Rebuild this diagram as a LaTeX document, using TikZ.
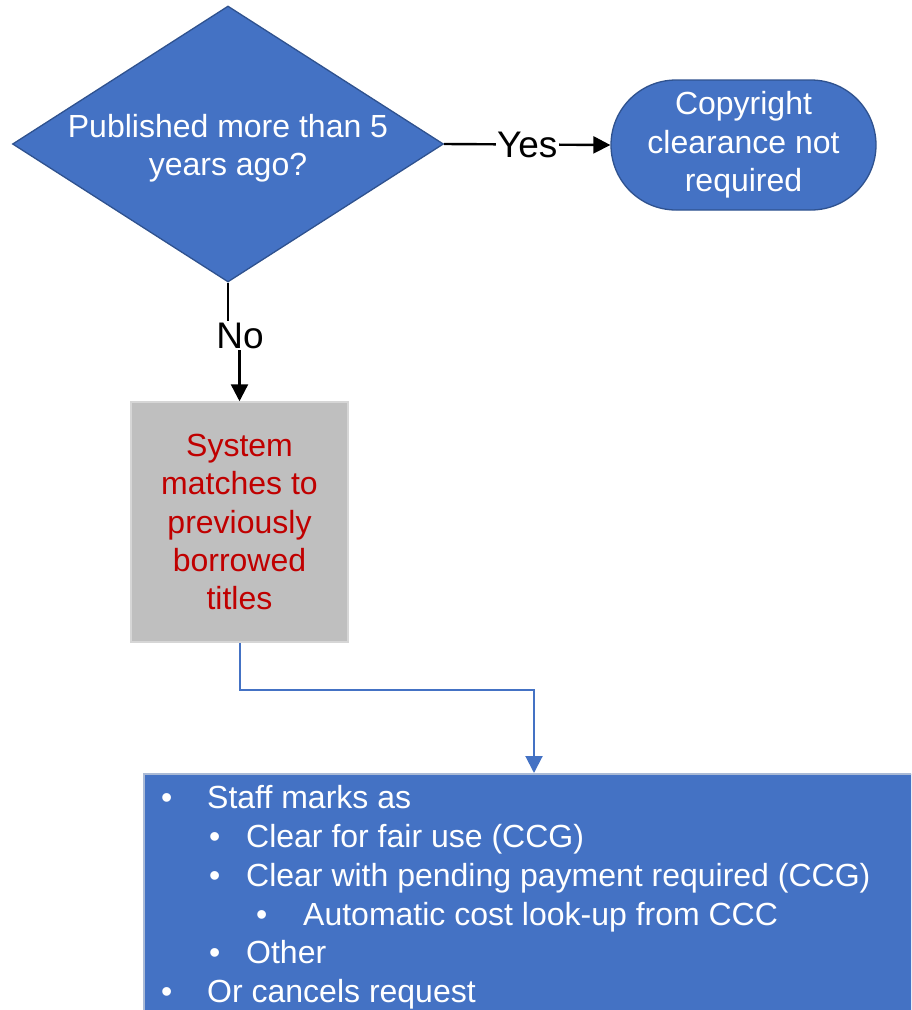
\documentclass[tikz,border=0pt]{standalone}
\usepackage{fontspec}
\setmainfont{Liberation Sans}
\usepackage{xcolor}
\usepackage{tikz}
\usetikzlibrary{shapes.geometric,arrows.meta}
\definecolor{flowblue}{RGB}{68,114,196}
\definecolor{flowedge}{RGB}{47,82,143}
\definecolor{flowred}{RGB}{192,0,0}
\definecolor{flowgray}{RGB}{191,191,191}
\definecolor{grayedge}{RGB}{214,214,214}
\definecolor{listedge}{RGB}{170,186,214}

\begin{document}
\begin{tikzpicture}[x=1pt,y=-1pt,
  big/.style={font=\fontsize{32}{38.3}\selectfont},
  decision/.style={diamond,fill=flowblue,draw=flowedge,line width=1.3pt,
    minimum width=431pt,minimum height=276pt,inner sep=0pt},
  terminal/.style={rectangle,rounded corners=65pt,fill=flowblue,draw=flowedge,
    line width=1.3pt,minimum width=265pt,minimum height=130pt,
    text=white,align=center,big},
  process/.style={rectangle,fill=flowgray,draw=grayedge,line width=1.5pt,
    minimum width=217pt,minimum height=240pt,text=flowred,align=center,big},
  listline/.style={anchor=base west,inner sep=0pt,text=white,big},
  conn/.style={line width=2.4pt,-{Triangle[length=17pt,width=17pt]}},
  lbl/.style={fill=white,inner sep=1.5pt,font=\fontsize{37}{40}\selectfont}]
\clip (0,0) rectangle (911,1010);
\node[decision] (dec) at (228,144) {};
\node[align=center,text=white,big] (dect) at (228,148) {Published more than 5\\years ago?};
\node[terminal] (done) at (743.5,145) {Copyright\\clearance not\\required};
\node[process] (sys) at (239.5,522) {System\\matches to\\previously\\borrowed\\titles};
\node[rectangle,fill=flowblue,draw=listedge,line width=1.5pt,anchor=north west,
  minimum width=800pt,minimum height=270pt] (staff) at (143,773) {};
\draw[conn] (dec.east) -- node[lbl] (yes) {Yes} (done.west);
\draw[conn] (dec.south) -- ++(0,53) node[lbl,xshift=12pt] (no) {No} -| (sys.north);
\draw[conn,flowblue,line width=2pt] (sys.south) -- ++(0,47) -| ([xshift=391pt]staff.north west);
\node[listline] (l1) at (161,808) {\makebox[46pt][l]{\textbullet}Staff marks as};
\node[listline] (l2) at (209,847) {\makebox[37pt][l]{\textbullet}Clear for fair use (CCG)};
\node[listline] (l3) at (209,886) {\makebox[37pt][l]{\textbullet}Clear with pending payment required (CCG)};
\node[listline] (l4) at (256,925) {\makebox[47pt][l]{\textbullet}Automatic cost look-up from CCC};
\node[listline] (l5) at (209,963) {\makebox[37pt][l]{\textbullet}Other};
\node[listline] (l6) at (161,1002) {\makebox[46pt][l]{\textbullet}Or cancels request};
\end{tikzpicture}
\end{document}
